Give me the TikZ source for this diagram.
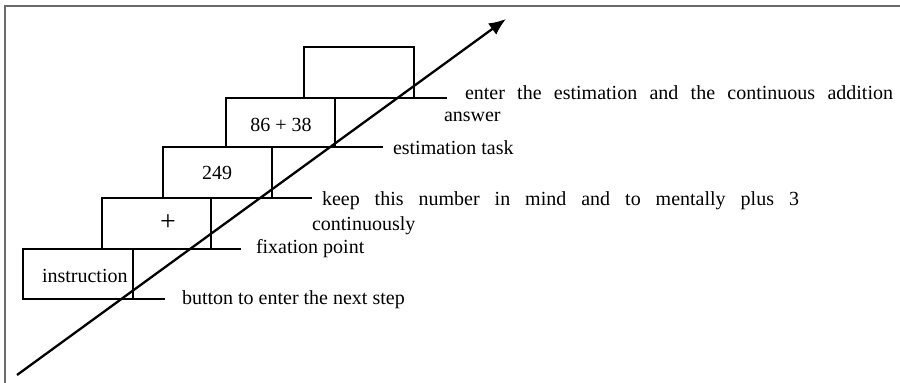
\documentclass[tikz,border=0pt]{standalone}
\usepackage{fontspec}
\setmainfont{Liberation Serif}
\usetikzlibrary{arrows.meta,fit}
\begin{document}
\begin{tikzpicture}[x=0.5pt,y=-0.5pt,
  stepbox/.style={draw=black, line width=0.95pt, inner sep=0pt, outer sep=0pt},
  lbl/.style={inner sep=0pt, outer sep=0pt, anchor=base west, font=\fontsize{10}{12}\selectfont},
  intext/.style={inner sep=0pt, outer sep=0pt, anchor=base, font=\fontsize{10}{12}\selectfont},
  lead/.style={line width=0.9pt},
  axisline/.style={line width=1.15pt, -{Latex[length=8.5pt,width=7pt]}},
  framestyle/.style={draw=black!58, line width=1pt}]
\useasboundingbox (0,0) rectangle (900,383);
\draw[framestyle] (5,383) -- (5,6) -- (900,6);

% boxes
\node[stepbox, fit={(23,249) (133,299)}] (b1) {};
\node[stepbox, fit={(102,198) (211,249)}] (b2) {};
\node[stepbox, fit={(163,147) (272,198)}] (b3) {};
\node[stepbox, fit={(226,98) (335,147)}] (b4) {};
\node[stepbox, fit={(304,47) (414,98)}] (b5) {};

% box texts
\node[intext, anchor=base west] (t1) at (42,283) {instruction};
\node[inner sep=0pt, font=\fontsize{14}{14}\selectfont] (t2) at (168,223) {+};
\node[intext] (t3) at (217,180) {249};
\node[intext] (t4) at (281,132) {86 + 38};

% main axis
\coordinate (s) at (17,375);
\coordinate (e) at (506,19);
\draw[axisline] (s) -- (e);

% leaders
\coordinate (l1) at (165,299);
\coordinate (l2) at (241,249);
\coordinate (l3) at (312,198);
\coordinate (l4) at (383,147);
\coordinate (l5) at (447,98);
\draw[lead] (b1.south east) -- (l1);
\draw[lead] (b2.south east) -- (l2);
\draw[lead] (b3.south east) -- (l3);
\draw[lead] (b4.south east) -- (l4);
\draw[lead] (b5.south east) -- (l5);

% labels
\node[lbl] (n1) at (182,305) {button to enter the next step};
\node[lbl] (n2) at (256,254) {fixation point};
\node[lbl] (n3a) at (322,206) {\makebox[238.5pt][s]{keep this number in mind and to mentally plus 3}};
\node[lbl] (n3b) at (312,231) {continuously};
\node[lbl] (n4) at (393,155) {estimation task};
\node[lbl] (n5a) at (465,100) {\makebox[214pt][s]{enter the estimation and the continuous addition}};
\node[lbl] (n5b) at (444,122) {answer};
\end{tikzpicture}
\end{document}
